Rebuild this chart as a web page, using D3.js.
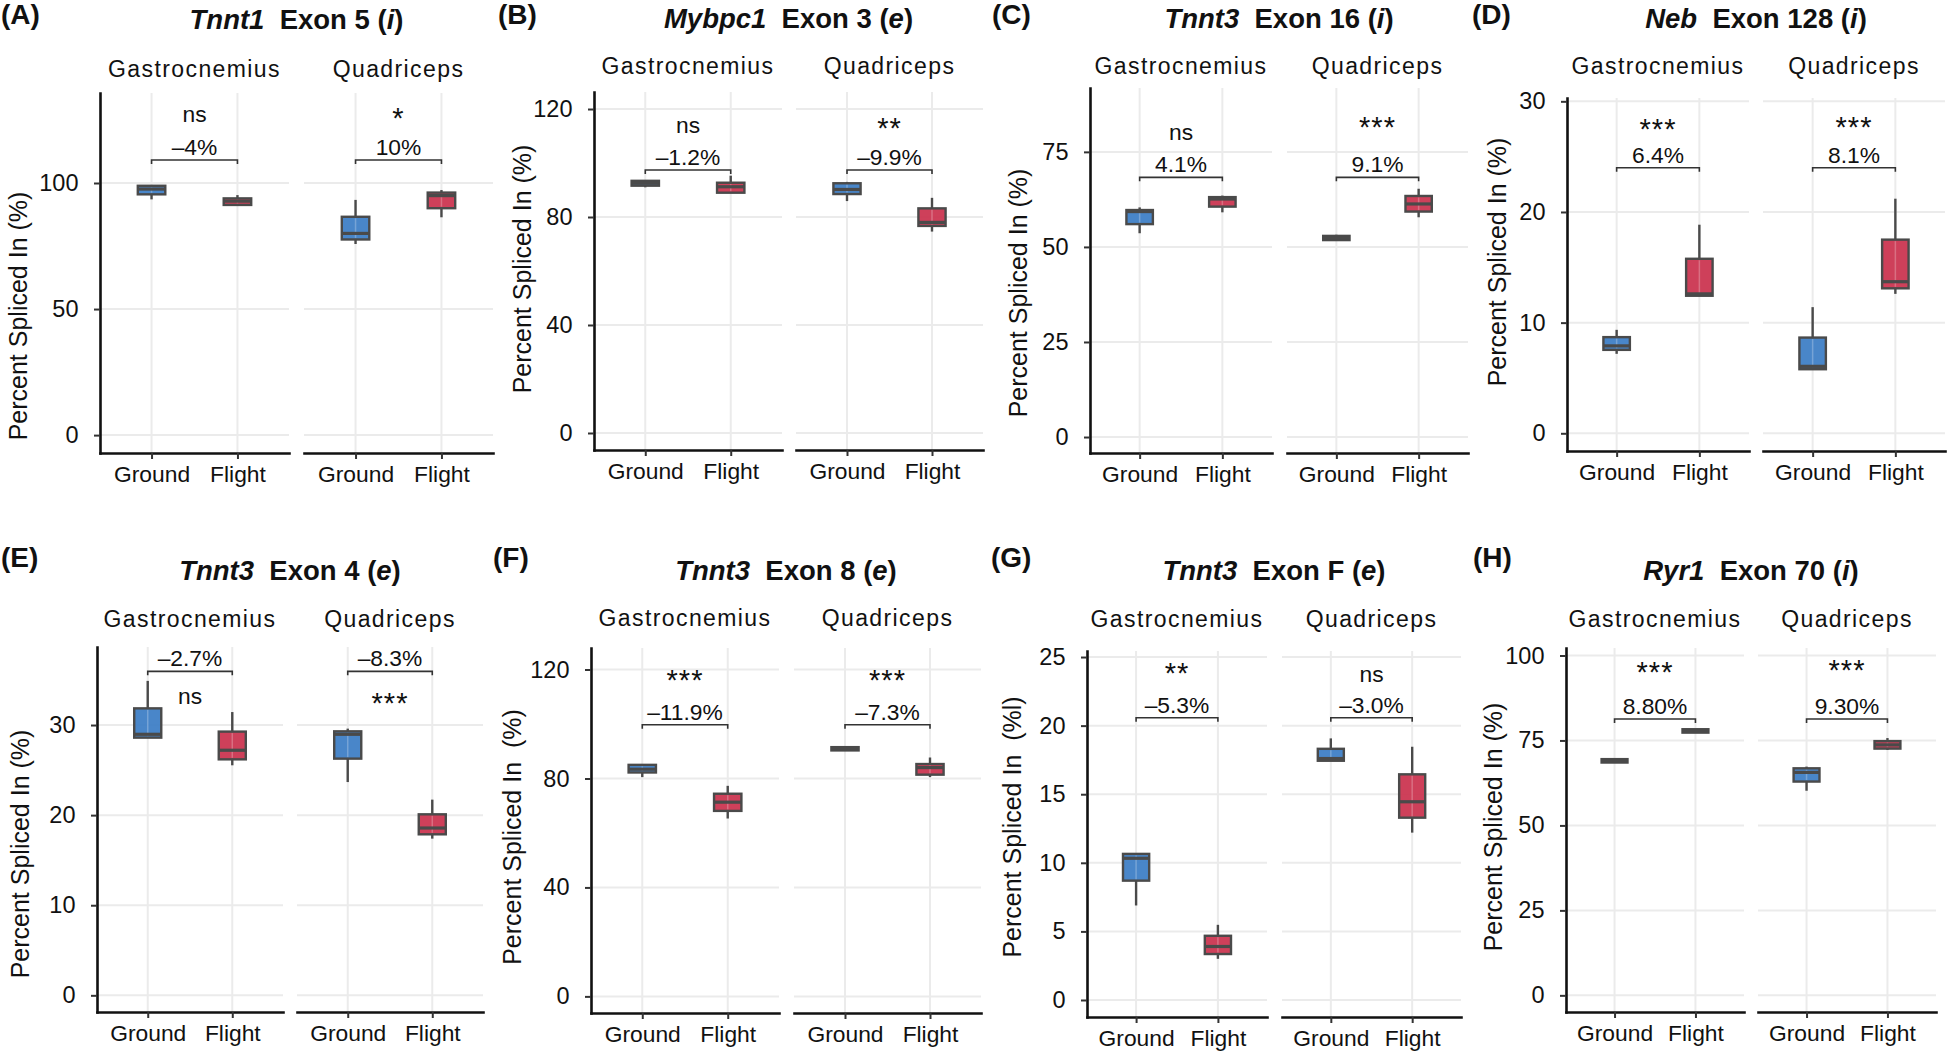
<!DOCTYPE html>
<html><head><meta charset="utf-8">
<script src="https://cdn.jsdelivr.net/npm/d3@7"></script>
<style>
body{margin:0;background:#fff;}
svg text{font-family:"Liberation Sans",Arial,Helvetica,sans-serif;fill:#111;}
</style></head><body>
<svg id="chart" width="1952" height="1052"></svg>
<script>
// ---------------- DATA ----------------
const panelLetters = ["(A)","(B)","(C)","(D)","(E)","(F)","(G)","(H)"];
const genes = ["Tnnt1","Mybpc1","Tnnt3","Neb","Tnnt3","Tnnt3","Tnnt3","Ryr1"];
const exons = ["5","3","16","128","4","8","F","70"];
const exonTypes = ["i","e","i","i","e","e","e","i"];
const tissues = ["Gastrocnemius","Quadriceps"];
const groups = ["Ground","Flight"];
const yTitles = ["Percent Spliced In (%)","Percent Spliced In (%)","Percent Spliced In (%)","Percent Spliced In (%)",
                 "Percent Spliced In (%)","Percent Spliced In  (%)","Percent Spliced In  (%l)","Percent Spliced In (%)"];
const yTicks = [[0,50,100],[0,40,80,120],[0,25,50,75],[0,10,20,30],
                [0,10,20,30],[0,40,80,120],[0,5,10,15,20,25],[0,25,50,75,100]];
// box stats [min, q1, median, q3, max] : panel -> tissue -> [Ground, Flight]
const boxStats = [
  [[[93.5,95.5,97.6,98.9,99.2],[91.0,91.3,92.8,93.9,95.2]],
   [[75.8,77.6,80.0,86.6,93.3],[86.4,90.0,95.0,96.2,97.2]]],
  [[[91.0,91.6,92.5,93.4,93.6],[89.0,89.0,91.2,92.7,95.3]],
   [[85.9,88.5,90.2,92.5,93.0],[74.6,76.7,78.0,83.2,87.1]]],
  [[[53.6,56.0,59.3,59.7,60.4],[59.1,60.6,62.6,63.1,63.5]],
   [[51.6,51.8,52.3,52.9,53.2],[57.8,59.3,61.3,63.4,65.3]]],
  [[[7.18,7.54,7.9,8.69,9.35],[12.4,12.43,12.6,15.77,18.85]],
   [[5.75,5.79,6.05,8.65,11.4],[12.6,13.1,13.7,17.5,21.2]]],
  [[[28.6,28.6,28.97,31.85,34.9],[25.53,26.19,27.2,29.27,31.44]],
   [[23.67,26.27,28.97,29.3,29.6],[17.39,17.87,18.57,20.09,21.72]]],
  [[[80.5,82.2,83.4,85.0,85.2],[65.3,68.1,71.3,74.4,77.3]],
   [[90.3,90.3,91.0,91.5,91.5],[80.5,81.4,84.0,85.3,87.7]]],
  [[[6.89,8.7,10.33,10.65,10.7],[3.0,3.35,3.9,4.68,5.48]],
   [[17.44,17.44,17.6,18.31,19.07],[12.2,13.29,14.45,16.45,18.46]]],
  [[[68.5,68.5,69.0,69.5,69.5],[77.3,77.3,77.8,78.3,78.3]],
   [[60.2,62.9,65.6,66.8,67.3],[72.2,72.6,73.7,74.8,75.7]]]
];
const bracketY = [109.1,97.4,68.3,24.0,35.96,99.7,20.57,81.3];
const pctLabels = [["–4%","10%"],["–1.2%","–9.9%"],["4.1%","9.1%"],["6.4%","8.1%"],
                   ["–2.7%","–8.3%"],["–11.9%","–7.3%"],["–5.3%","–3.0%"],["8.80%","9.30%"]];
const sigLabels = [["ns","*"],["ns","**"],["ns","***"],["***","***"],
                   ["ns","***"],["***","***"],["**","ns"],["***","***"]];
const sigY = [[124.2,123.1],[111.2,110.5],[78.2,79.8],[26.9,27.1],
              [32.3,31.7],[113.9,113.9],[23.4,23.2],[93.4,93.9]];

// ---------------- LAYOUT ----------------
const layout = [
 {ax:100,p1R:289,p2L:304,p2R:493,top:93,bottom:453,dom:[-7.1,135.7],stripY:77,titleY:29,letterX:1,letterY:24,ytX:18,ytY:316},
 {ax:594,p1R:782,p2L:796,p2R:983,top:92,bottom:450,dom:[-6.3,126.3],stripY:74,titleY:28,letterX:498,letterY:24,ytX:522,ytY:269},
 {ax:1090,p1R:1272,p2L:1287,p2R:1468,top:88,bottom:453,dom:[-4.2,91.8],stripY:74,titleY:28,letterX:992,letterY:24,ytX:1018,ytY:293},
 {ax:1567,p1R:1749,p2L:1763,p2R:1945,top:98,bottom:451,dom:[-1.6,30.3],stripY:74,titleY:28,letterX:1472,letterY:24,ytX:1497,ytY:262},
 {ax:97,p1R:283,p2L:297,p2R:483,top:647,bottom:1012,dom:[-1.85,38.66],stripY:627,titleY:580,letterX:1,letterY:567,ytX:20,ytY:854},
 {ax:591,p1R:779,p2L:794,p2R:981,top:648,bottom:1013,dom:[-6.1,127.9],stripY:626,titleY:580,letterX:493,letterY:567,ytX:512,ytY:837},
 {ax:1087,p1R:1267,p2L:1282,p2R:1461,top:651,bottom:1017,dom:[-1.24,25.44],stripY:627,titleY:580,letterX:991,letterY:567,ytX:1012,ytY:827},
 {ax:1566,p1R:1744,p2L:1758,p2R:1936,top:648,bottom:1012,dom:[-4.9,102.2],stripY:627,titleY:580,letterX:1473,letterY:567,ytX:1493,ytY:827}
];
const fills = {Ground:"#3f7fc6", Flight:"#cb3651"};
const BOX_W = 0.32;
const DARK = "#4a4a4a";

const svg = d3.select("#chart");

layout.forEach((L, pi) => {
  const g = svg.append("g");
  const y = d3.scaleLinear().domain(L.dom).range([L.bottom, L.top]);
  const facets = [[L.ax, L.p1R], [L.p2L, L.p2R]];

  facets.forEach((fr, ti) => {
    const x = d3.scalePoint().domain(groups).range(fr).padding(0.6);
    const fg = g.append("g");
    // grid
    fg.selectAll("line.hg").data(yTicks[pi]).join("line").attr("class","hg")
      .attr("x1", fr[0]).attr("x2", fr[1]).attr("y1", d => y(d)).attr("y2", d => y(d))
      .attr("stroke", "#ebebeb").attr("stroke-width", 2);
    fg.selectAll("line.vg").data(groups).join("line").attr("class","vg")
      .attr("x1", d => x(d)).attr("x2", d => x(d)).attr("y1", L.top).attr("y2", L.bottom)
      .attr("stroke", "#ebebeb").attr("stroke-width", 2);

    // boxes
    const bw = x.step() * BOX_W;
    groups.forEach((grp, gi) => {
      const s = boxStats[pi][ti][gi];
      const cx = x(grp);
      const bg = fg.append("g");
      bg.append("line").attr("x1", cx).attr("x2", cx).attr("y1", y(s[0])).attr("y2", y(s[1]))
        .attr("stroke", DARK).attr("stroke-width", 2.4);
      bg.append("line").attr("x1", cx).attr("x2", cx).attr("y1", y(s[3])).attr("y2", y(s[4]))
        .attr("stroke", DARK).attr("stroke-width", 2.4);
      bg.append("rect").attr("x", cx - bw/2).attr("width", bw)
        .attr("y", y(s[3])).attr("height", Math.max(0.5, y(s[1]) - y(s[3])))
        .attr("fill", fills[grp]).attr("fill-opacity", 0.95)
        .attr("stroke", DARK).attr("stroke-width", 2.4);
      // faint grid showing through fill
      bg.append("line").attr("x1", cx).attr("x2", cx).attr("y1", y(s[3]) + 1.5).attr("y2", y(s[1]) - 1.5)
        .attr("stroke", "#fff").attr("stroke-opacity", 0.25).attr("stroke-width", 1.5);
      bg.append("line").attr("x1", cx - bw/2).attr("x2", cx + bw/2).attr("y1", y(s[2])).attr("y2", y(s[2]))
        .attr("stroke", DARK).attr("stroke-width", 3.2);
    });

    // bracket
    const by = y(bracketY[pi]);
    const x0 = x(groups[0]), x1 = x(groups[1]), xm = (x0 + x1) / 2;
    fg.append("path").attr("d", `M${x0},${by + 4}V${by}H${x1}V${by + 4}`)
      .attr("fill", "none").attr("stroke", "#333").attr("stroke-width", 1.6);
    fg.append("text").attr("x", xm).attr("y", by - 5).attr("text-anchor", "middle")
      .attr("font-size", 22.8).text(pctLabels[pi][ti]);
    const sl = sigLabels[pi][ti];
    const isStar = sl.indexOf("*") >= 0;
    fg.append("text").attr("x", xm).attr("y", y(sigY[pi][ti]) + (isStar ? 3.7 : 0))
      .attr("text-anchor", "middle").attr("font-size", isStar ? 29 : 22.8)
      .style("letter-spacing", isStar ? "1px" : null).text(sl);

    // x axis
    const xa = fg.append("g").attr("transform", `translate(0,${L.bottom})`)
      .call(d3.axisBottom(x).tickSize(6).tickSizeOuter(0).tickPadding(7));
    xa.select(".domain").attr("stroke", "#111").attr("stroke-width", 2.6).attr("stroke-linecap", "square");
    xa.selectAll(".tick line").attr("stroke", "#333").attr("stroke-width", 2);
    xa.selectAll(".tick text").attr("font-size", 22.8).attr("fill", "#111")
      .style("font-family", '"Liberation Sans",Arial,sans-serif');

    // strip label
    fg.append("text").attr("x", (fr[0] + fr[1]) / 2).attr("y", L.stripY)
      .attr("text-anchor", "middle").attr("font-size", 23).style("letter-spacing", "1.4px")
      .text(tissues[ti]);
  });

  // y axis
  const ya = g.append("g").attr("transform", `translate(${L.ax},0)`)
    .call(d3.axisLeft(y).tickValues(yTicks[pi]).tickSize(6).tickSizeOuter(0).tickPadding(15.5));
  ya.select(".domain").attr("stroke", "#111").attr("stroke-width", 2.6).attr("stroke-linecap", "square");
  ya.selectAll(".tick line").attr("stroke", "#333").attr("stroke-width", 2);
  ya.selectAll(".tick text").attr("font-size", 23.5).attr("fill", "#111")
    .style("font-family", '"Liberation Sans",Arial,sans-serif');

  // y title
  g.append("text").attr("transform", `translate(${L.ytX},${L.ytY}) rotate(-90)`)
    .attr("dy", "0.35em").attr("text-anchor", "middle").attr("font-size", 25)
    .style("white-space", "pre").text(yTitles[pi]);

  // panel letter
  g.append("text").attr("x", L.letterX).attr("y", L.letterY).attr("font-size", 28)
    .attr("font-weight", "bold").text(panelLetters[pi]);

  // title
  const t = g.append("text").attr("x", (L.ax + L.p2R) / 2).attr("y", L.titleY)
    .attr("text-anchor", "middle").attr("font-size", 27.5).attr("font-weight", "bold")
    .style("white-space", "pre");
  t.append("tspan").attr("font-style", "italic").text(genes[pi]);
  t.append("tspan").text(`  Exon ${exons[pi]} (`);
  t.append("tspan").attr("font-style", "italic").text(exonTypes[pi]);
  t.append("tspan").text(")");
});
</script>
</body></html>
